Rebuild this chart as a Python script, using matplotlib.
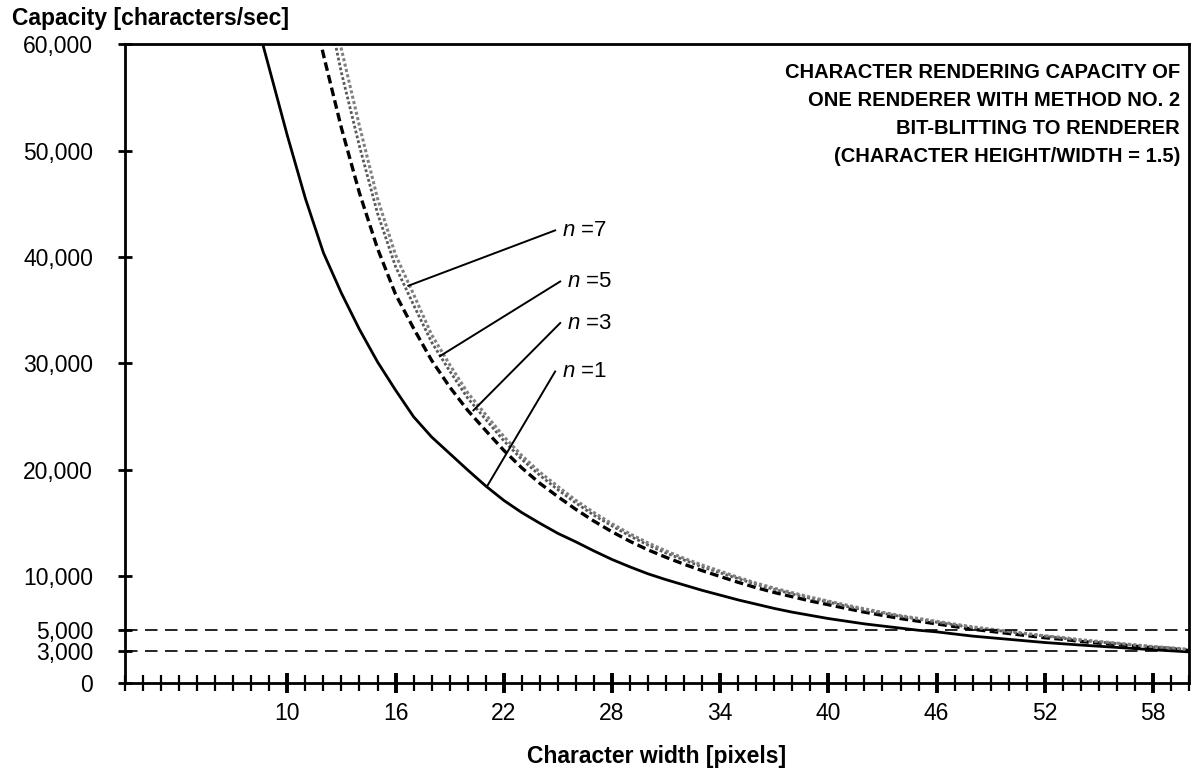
import matplotlib
matplotlib.use("Agg")
import matplotlib.pyplot as plt

plt.rcParams["font.family"] = ["Liberation Sans", "DejaVu Sans"]
plt.rcParams["mathtext.fontset"] = "custom"
plt.rcParams["mathtext.it"] = "Liberation Sans:italic"
plt.rcParams["mathtext.rm"] = "Liberation Sans"

# capacity [characters/sec] at each integer character width
widths_n1 = list(range(8, 61))
capacity_n1 = [64000, 57700, 51400, 45500, 40400, 36600, 33200, 30150, 27500, 25000,
               23100, 21550, 20000, 18500, 17150, 16000, 15000, 14050, 13250, 12400,
               11600, 10900, 10250, 9700, 9200, 8700, 8250, 7800, 7400, 7000,
               6650, 6350, 6050, 5800, 5550, 5350, 5150, 4950, 4800, 4600,
               4400, 4250, 4100, 3950, 3800, 3680, 3560, 3450, 3340, 3230,
               3120, 3020, 2920]

widths_n3 = list(range(11, 61))
capacity_n3 = [66500, 59000, 52100, 46000, 40800, 36500, 33300, 30300, 27800, 25600,
               23700, 21850, 20200, 18750, 17500, 16300, 15200, 14200, 13300, 12500,
               11800, 11150, 10550, 10000, 9450, 8950, 8500, 8100, 7700, 7350,
               7000, 6650, 6350, 6050, 5800, 5550, 5300, 5050, 4850, 4650,
               4450, 4250, 4100, 3900, 3750, 3600, 3450, 3300, 3200, 3050]

widths_n5 = list(range(12, 61))
capacity_n5 = [65300, 57300, 50400, 44100, 39100, 35500, 32000, 29300, 26750, 24750,
               22750, 21000, 19500, 18150, 16900, 15750, 14750, 13800, 12950, 12200,
               11550, 10900, 10350, 9800, 9250, 8800, 8350, 7950, 7600, 7200,
               6850, 6550, 6250, 6000, 5700, 5450, 5200, 5000, 4800, 4600,
               4400, 4200, 4000, 3850, 3700, 3550, 3400, 3280, 3120]

widths_n7 = list(range(12, 61))
capacity_n7 = [68000, 59500, 52300, 45500, 40200, 36500, 32700, 29900, 27250, 25200,
               23150, 21350, 19800, 18450, 17150, 16000, 14950, 14000, 13150, 12400,
               11700, 11080, 10500, 9920, 9380, 8900, 8480, 8060, 7690, 7320,
               6960, 6640, 6320, 6060, 5790, 5530, 5270, 5060, 4850, 4640,
               4430, 4270, 4060, 3900, 3740, 3580, 3420, 3310, 3150]

guide_levels = [5000, 3000]

# curve labels and leader lines (label end -> point on curve)
label_n = [7, 5, 3, 1]
label_w = [24.85, 25.13, 25.13, 24.85]
label_v = [42500, 37700, 33800, 29250]
tip_w = [16.71, 18.47, 20.32, 21.06]
tip_v = [37300, 30700, 25600, 18430]

x_major = [10, 16, 22, 28, 34, 40, 46, 52, 58]
x_minor = [w for w in range(1, 61) if w not in x_major]
y_ticks = [0, 3000, 5000, 10000, 20000, 30000, 40000, 50000, 60000]

title_lines = ["CHARACTER RENDERING CAPACITY OF",
               "ONE RENDERER WITH METHOD NO. 2",
               "BIT-BLITTING TO RENDERER",
               "(CHARACTER HEIGHT/WIDTH = 1.5)"]

fig = plt.figure(figsize=(11.93, 7.68), dpi=100)
ax = fig.add_axes([0.1048, 0.1107, 0.8919, 0.8320])

ax.plot(widths_n1, capacity_n1, color="black", lw=2.0)
ax.plot(widths_n3, capacity_n3, color="black", lw=2.4, linestyle=(0, (2.6, 1.3)))
ax.plot(widths_n5, capacity_n5, color="0.35", lw=2.0, linestyle=(0, (1, 0.8)))
ax.plot(widths_n7, capacity_n7, color="0.5", lw=2.2, linestyle=(0, (1, 0.8)))

for level in guide_levels:
    ax.axhline(level, color="black", lw=1.2, linestyle=(0, (7.5, 4.5)))

for n, lw0, lv0, tw, tv in zip(label_n, label_w, label_v, tip_w, tip_v):
    ax.plot([lw0, tw], [lv0, tv], color="black", lw=1.4)
    ax.annotate(f"$n$ ={n}", xy=(lw0, lv0), xytext=(5, 0), textcoords="offset points",
                ha="left", va="center", fontsize=16)

ax.set_xlim(1, 60)
ax.set_ylim(0, 60000)
ax.set_xticks(x_major)
ax.set_xticks(x_minor, minor=True)
ax.set_yticks(y_ticks)
ax.set_yticklabels([f"{v:,}" for v in y_ticks])
ax.tick_params(axis="x", which="major", direction="inout", length=15, width=2.8,
               labelsize=16.5, pad=6)
ax.tick_params(axis="x", which="minor", direction="inout", length=12, width=1.6)
ax.tick_params(axis="y", direction="inout", length=10, width=2, labelsize=16.5, pad=18)
for spine in ax.spines.values():
    spine.set_linewidth(2.0)

title_y = [72, 101, 129, 157]
for line, y in zip(title_lines, title_y):
    fig.text(1180 / 1193, 1 - y / 768, line, ha="right", va="center",
             fontsize=14.5, fontweight="bold")

fig.text(12 / 1193, 1 - 19 / 768, "Capacity [characters/sec]", ha="left", va="center",
         fontsize=16.5, fontweight="bold")
fig.text(657 / 1193, 1 - 757 / 768, "Character width [pixels]", ha="center", va="center",
         fontsize=16.5, fontweight="bold")

fig.savefig("out.png", dpi=100)
